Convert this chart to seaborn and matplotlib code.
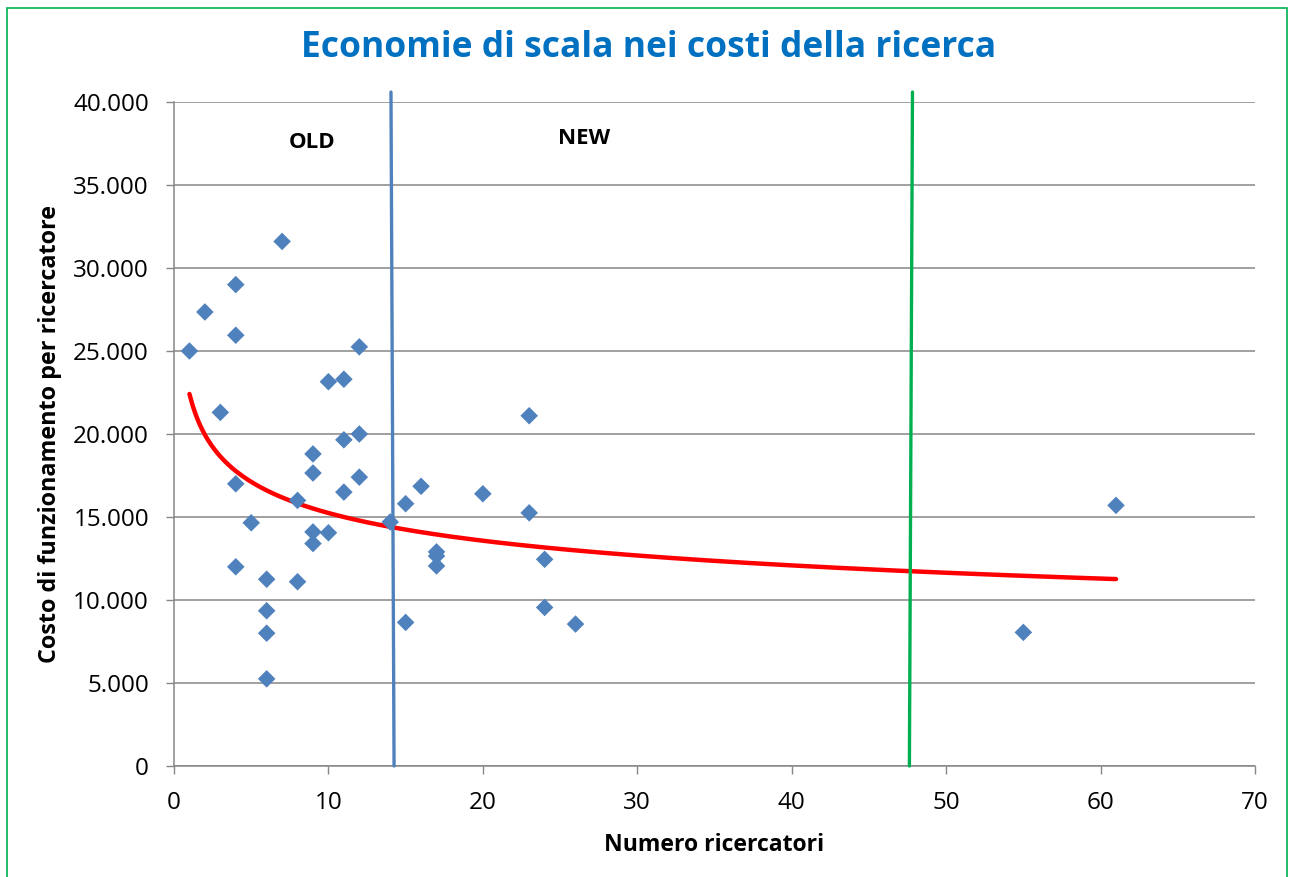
import numpy as np
import pandas as pd
import matplotlib
matplotlib.use("Agg")
import matplotlib.pyplot as plt
import seaborn as sns
from matplotlib.ticker import FuncFormatter
from matplotlib.patches import Rectangle

# ---- data ----
ricercatori = [1, 2, 3, 4, 4, 4, 4, 5, 6, 6, 6, 6, 7, 8, 8, 9, 9, 9, 9, 10, 10,
               11, 11, 11, 12, 12, 12, 14, 15, 15, 16, 17, 17, 17, 20, 23, 23,
               24, 24, 26, 55, 61]
costo = [25000, 27350, 21300, 29000, 25950, 17000, 12000, 14650, 11250, 9350,
         8000, 5250, 31600, 16000, 11100, 18800, 17650, 14100, 13400, 23150,
         14050, 23300, 19650, 16500, 25250, 20000, 17400, 14700, 15800, 8650,
         16850, 12900, 12650, 12050, 16400, 21100, 15250, 12450, 9550, 8550,
         8050, 15700]
x_ticks = [0, 10, 20, 30, 40, 50, 60, 70]
y_ticks = [0, 5000, 10000, 15000, 20000, 25000, 30000, 35000, 40000]
divider_old_new = 14.15   # blue separator
divider_green = 47.7      # green separator
title = "Economie di scala nei costi della ricerca"
xlabel = "Numero ricercatori"
ylabel = "Costo di funzionamento per ricercatore"

df = pd.DataFrame({"x": ricercatori, "y": costo})

# power trendline (as Excel): ln y = ln a + b ln x
b, lna = np.polyfit(np.log(df["x"]), np.log(df["y"]), 1)
tx = np.linspace(min(ricercatori), max(ricercatori), 300)
trend = pd.DataFrame({"x": tx, "y": np.exp(lna) * tx ** b})

sns.set_theme(style="white")
plt.rcParams["font.family"] = ["Open Sans", "DejaVu Sans"]

W, H = 1289, 877
fig = plt.figure(figsize=(W / 100, H / 100), dpi=100)
ax = fig.add_axes([174 / W, 1 - 766 / H, (1255 - 174) / W, (766 - 102) / H])

grey = "#868686"
ax.set_xlim(0, 70)
ax.set_ylim(0, 40000)
ax.yaxis.grid(True, color=grey, linewidth=1.1)
ax.xaxis.grid(False)
ax.set_axisbelow(True)

sns.lineplot(data=trend, x="x", y="y", ax=ax, color="#FF0000", linewidth=3.2,
             zorder=3, solid_capstyle="round")
sns.scatterplot(data=df, x="x", y="y", ax=ax, marker="D", s=80,
                color="#4F81BD", edgecolor="none", zorder=4)

# separators (slightly extending above plot area)
ax.plot([divider_old_new - 0.1, divider_old_new + 0.1], [40600, 0],
        color="#4F81BD", linewidth=2.4, clip_on=False, zorder=5)
ax.plot([divider_green + 0.12, divider_green - 0.08], [40600, 0],
        color="#00B050", linewidth=2.4, clip_on=False, zorder=5)

ax.text(8.95, 37550, "OLD", ha="center", va="center", fontsize=16,
        fontweight="bold", color="black")
ax.text(26.55, 37800, "NEW", ha="center", va="center", fontsize=16,
        fontweight="bold", color="black")

ax.set_xticks(x_ticks)
ax.set_yticks(y_ticks)
ax.yaxis.set_major_formatter(FuncFormatter(lambda v, p: f"{int(v):,}".replace(",", ".")))
ax.tick_params(axis="both", which="major", length=6, width=1, color=grey,
               labelsize=17.5, pad=12, labelcolor="black", direction="out")
ax.tick_params(axis="x", bottom=True)
ax.tick_params(axis="y", left=True)

for side in ["top", "right"]:
    ax.spines[side].set_visible(False)
for side in ["left", "bottom"]:
    ax.spines[side].set_color(grey)
    ax.spines[side].set_linewidth(1.1)

ax.set_xlabel(xlabel, fontsize=16.6, fontweight="bold", color="black", labelpad=13)
ax.set_ylabel(ylabel, fontsize=16.8, fontweight="bold", color="black", labelpad=8)

fig.text(649 / W, 1 - 48 / H, title, ha="center", va="center", fontsize=25.5,
         fontweight="bold", color="#0070C0")

# outer green chart border
fig.patches.append(Rectangle((7 / W, -0.01), (1287 - 7) / W, 1 - 8 / H + 0.01,
                             transform=fig.transFigure, fill=False,
                             edgecolor="#00B050", linewidth=1.2))

fig.savefig("out.png", dpi=100)
